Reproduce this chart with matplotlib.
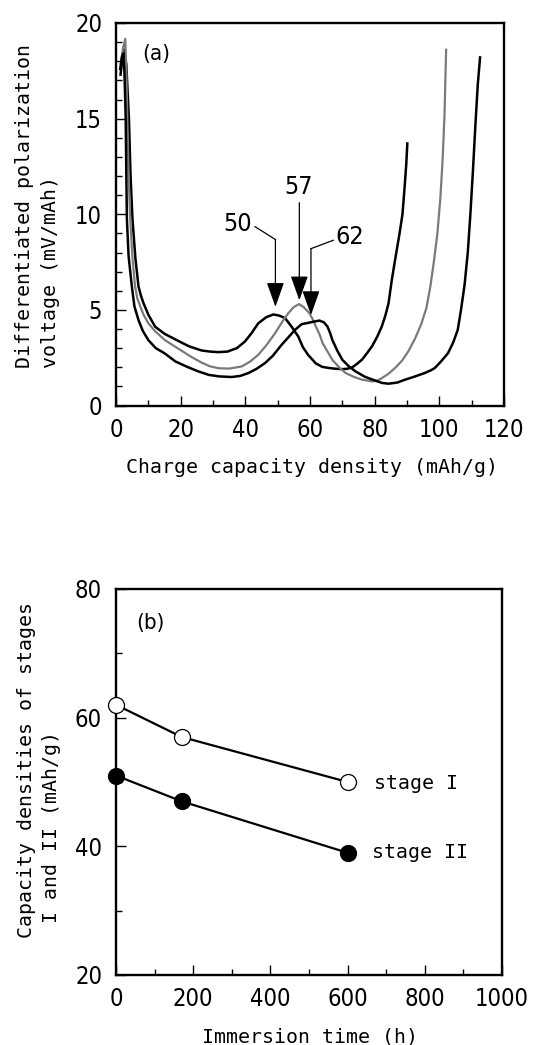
import matplotlib
matplotlib.use('Agg')
import matplotlib.pyplot as plt
from matplotlib.ticker import MultipleLocator
from matplotlib import font_manager
from matplotlib.font_manager import FontProperties

# ---------------- data ----------------
# panel (a): differentiated polarization voltage curves
curve50_x = [1.4, 1.9, 2.5, 3.2, 4.0, 4.5, 5.1, 6.0, 6.95, 7.7, 8.5, 10.0, 12.1, 15.0, 19.0, 22.5, 26.4, 29.0,
             31.7, 34.5, 37.4, 39.9, 42.0, 44.0, 46.5, 48.7, 50.5, 52.3, 54.4, 56.4, 57.8, 59.4, 61.8, 63.8,
             65.9, 68.0, 70.0, 71.5, 73.1, 74.7, 76.1, 77.7, 79.2, 80.8, 82.2, 83.3, 84.3, 85.3, 86.5, 87.7,
             88.6, 89.3, 89.8, 90.1]
curve50_y = [17.3, 18.0, 18.6, 17.8, 15.0, 12.0, 9.74, 7.7, 6.23, 5.75, 5.35, 4.75, 4.12, 3.75, 3.4, 3.1, 2.88, 2.82,
             2.79, 2.82, 3.0, 3.35, 3.8, 4.3, 4.62, 4.76, 4.7, 4.57, 4.1, 3.6, 3.05, 2.65, 2.2, 2.02,
             1.96, 1.92, 1.9, 1.92, 2.0, 2.2, 2.4, 2.75, 3.1, 3.6, 4.13, 4.7, 5.35, 6.57, 7.8, 9.0,
             10.0, 11.5, 12.7, 13.7]

curve57_x = [1.5, 2.2, 2.86, 3.2, 3.5, 3.9, 4.4, 5.1, 5.9, 6.6, 7.5, 8.6, 10.0, 12.0, 15.1, 19.0, 23.3, 26.4,
             29.0, 31.7, 35.0, 38.9, 41.5, 44.0, 46.5, 49.2, 51.5, 53.3, 55.0, 56.6, 58.0, 59.8, 61.0, 61.8,
             63.0, 63.9, 65.5, 66.9, 69.0, 71.0, 73.5, 76.1, 79.2, 80.8, 82.2, 84.2, 86.3, 88.5, 90.4, 92.5,
             94.5, 96.0, 97.2, 98.3, 99.4, 100.3, 101.0, 101.6, 102.1]
curve57_y = [17.9, 18.7, 19.17, 17.5, 15.0, 12.0, 9.74, 7.7, 6.23, 5.6, 5.18, 4.72, 4.3, 3.9, 3.42, 3.0, 2.54, 2.25,
             2.05, 1.95, 1.93, 2.04, 2.3, 2.65, 3.15, 3.78, 4.4, 4.83, 5.15, 5.3, 5.15, 4.83, 4.45, 4.13,
             3.7, 3.26, 2.8, 2.39, 2.0, 1.7, 1.5, 1.35, 1.26, 1.3, 1.43, 1.65, 1.96, 2.35, 2.83, 3.5,
             4.3, 5.1, 6.2, 7.5, 9.0, 10.8, 12.8, 15.2, 18.6]

curve62_x = [1.3, 1.8, 2.2, 2.6, 3.0, 3.2, 3.37, 3.9, 4.9, 5.7, 6.95, 8.3, 10.0, 12.3, 15.1, 18.4, 22.3, 25.5,
             28.7, 32.0, 35.8, 38.5, 41.0, 43.5, 46.1, 48.5, 51.2, 53.5, 55.4, 57.4, 59.4, 61.0, 62.9, 64.3,
             65.4, 66.2, 66.9, 68.5, 70.0, 72.0, 74.1, 77.0, 80.2, 82.3, 84.3, 87.0, 89.4, 92.5, 95.5, 97.5,
             98.6, 100.5, 102.7, 104.3, 105.7, 106.7, 107.8, 108.8, 109.6, 110.4, 111.2, 111.9, 112.6]
curve62_y = [17.6, 18.2, 18.4, 17.5, 15.0, 12.0, 9.74, 7.8, 6.23, 5.18, 4.47, 3.9, 3.42, 3.0, 2.72, 2.3, 2.0, 1.78,
             1.6, 1.52, 1.49, 1.55, 1.7, 1.92, 2.22, 2.6, 3.17, 3.6, 3.96, 4.25, 4.32, 4.38, 4.44, 4.35,
             4.13, 3.8, 3.43, 2.85, 2.39, 2.05, 1.78, 1.5, 1.3, 1.18, 1.14, 1.2, 1.35, 1.52, 1.7, 1.85,
             1.96, 2.3, 2.74, 3.3, 3.96, 5.0, 6.3, 8.0, 10.0, 12.3, 14.8, 16.8, 18.2]

peak_labels = ['50', '57', '62']

# panel (b): capacity densities vs immersion time
immersion_h = [0, 170, 600]
stage1_cap = [62, 57, 50]
stage2_cap = [51, 47, 39]
series_labels = ['stage I', 'stage II']

xticks_a = [0, 20, 40, 60, 80, 100, 120]
yticks_a = [0, 5, 10, 15, 20]
xticks_b = [0, 200, 400, 600, 800, 1000]
yticks_b = [20, 40, 60, 80]


# ---------------- fonts ----------------
def narrow_props(size):
    # prefer a true narrow / condensed sans face when one is installed
    for fam, stretch, key in (('Liberation Sans Narrow', 'normal', 'Narrow'),
                              ('DejaVu Sans', 'condensed', 'Condensed')):
        try:
            p = FontProperties(family=fam, stretch=stretch, size=size)
            path = font_manager.findfont(p, fallback_to_default=False)
            if key.lower() in path.lower():
                return FontProperties(fname=path, size=size)
        except Exception:
            pass
    return FontProperties(family='Liberation Sans', size=size)


def pick(names):
    for n in names:
        try:
            font_manager.findfont(FontProperties(family=n), fallback_to_default=False)
            return n
        except Exception:
            pass
    return 'DejaVu Sans'


MONO = pick(['DejaVu Sans Mono', 'Liberation Mono'])
TICKFP = narrow_props(17)
PEAKFP = narrow_props(18)
TAGFP = narrow_props(16)

W, H = 533, 1045
fig = plt.figure(figsize=(W / 100, H / 100), dpi=100)


def fx(px):
    return px / W


def fy(py):
    return 1 - py / H


ax1 = fig.add_axes([fx(116), fy(405.5), fx(504) - fx(116), fy(23) - fy(405.5)])
ax2 = fig.add_axes([fx(116), fy(975), fx(502) - fx(116), fy(589) - fy(975)])

for ax in (ax1, ax2):
    for s in ax.spines.values():
        s.set_linewidth(1.7)
    ax.tick_params(which='both', direction='in', top=False, right=False, width=1.0)
    ax.tick_params(which='major', length=7)
    ax.tick_params(which='minor', length=4)
    ax.tick_params(axis='y', pad=10)
    ax.tick_params(axis='x', pad=9)

# ---- panel (a) ----
ax1.plot(curve50_x, curve50_y, color='black', lw=1.8, solid_joinstyle='round')
ax1.plot(curve57_x, curve57_y, color='#7a7a7a', lw=1.6, solid_joinstyle='round')
ax1.plot(curve62_x, curve62_y, color='black', lw=1.8, solid_joinstyle='round')
ax1.set_xlim(0, 120)
ax1.set_ylim(0, 20)
ax1.set_xticks(xticks_a)
ax1.set_yticks(yticks_a)
ax1.xaxis.set_minor_locator(MultipleLocator(10))
ax1.yaxis.set_minor_locator(MultipleLocator(1))
for lab in ax1.get_xticklabels() + ax1.get_yticklabels():
    lab.set_fontproperties(TICKFP)

arrow_kw = dict(arrowstyle='-|>,head_length=0.9,head_width=0.32', color='black', lw=0.9,
                shrinkA=0, shrinkB=0, mutation_scale=17)
# 50
ax1.plot([43.0, 49.3], [9.35, 8.68], color='black', lw=0.9)
ax1.annotate('', xy=(49.3, 5.16), xytext=(49.3, 8.68), arrowprops=arrow_kw)
ax1.text(37.7, 9.5, peak_labels[0], fontproperties=PEAKFP, ha='center', va='center')
# 57
ax1.annotate('', xy=(56.7, 5.5), xytext=(56.7, 10.6), arrowprops=arrow_kw)
ax1.text(56.6, 11.45, peak_labels[1], fontproperties=PEAKFP, ha='center', va='center')
# 62
ax1.plot([67.2, 60.3], [8.64, 8.2], color='black', lw=0.9)
ax1.annotate('', xy=(60.3, 4.73), xytext=(60.3, 8.2), arrowprops=arrow_kw)
ax1.text(72.2, 8.8, peak_labels[2], fontproperties=PEAKFP, ha='center', va='center')

ax1.text(12.4, 18.4, '(a)', fontproperties=TAGFP, ha='center', va='center')

# ---- panel (b) ----
ax2.plot(immersion_h, stage1_cap, color='black', lw=1.6, zorder=2)
ax2.plot(immersion_h, stage1_cap, 'o', ms=11.5, mfc='white', mec='black', mew=0.9, zorder=3, clip_on=False)
ax2.plot(immersion_h, stage2_cap, color='black', lw=1.6, zorder=2)
ax2.plot(immersion_h, stage2_cap, 'o', ms=11.5, mfc='black', mec='black', mew=0.9, zorder=3, clip_on=False)
ax2.set_xlim(0, 1000)
ax2.set_ylim(20, 80)
ax2.set_xticks(xticks_b)
ax2.set_yticks(yticks_b)
ax2.xaxis.set_minor_locator(MultipleLocator(100))
ax2.yaxis.set_minor_locator(MultipleLocator(10))
for lab in ax2.get_xticklabels() + ax2.get_yticklabels():
    lab.set_fontproperties(TICKFP)

ax2.text(668, stage1_cap[-1] - 0.2, series_labels[0], fontfamily=MONO, fontsize=14.3, ha='left', va='center')
ax2.text(662, stage2_cap[-1] + 0.1, series_labels[1], fontfamily=MONO, fontsize=14.3, ha='left', va='center')
ax2.text(90, 74.7, '(b)', fontproperties=TAGFP, ha='center', va='center')

# ---- axis labels ----
LS = 14.3
fig.text(fx(24), fy(368), 'Differentiated polarization', fontfamily=MONO, fontsize=LS,
         rotation=90, rotation_mode='anchor', ha='left', va='center')
fig.text(fx(51), fy(368), 'voltage (mV/mAh)', fontfamily=MONO, fontsize=LS,
         rotation=90, rotation_mode='anchor', ha='left', va='center')
fig.text(fx(312), fy(468), 'Charge capacity density (mAh/g)', fontfamily=MONO, fontsize=LS,
         ha='center', va='center')

fig.text(fx(26.7), fy(938), 'Capacity densities of stages', fontfamily=MONO, fontsize=LS,
         rotation=90, rotation_mode='anchor', ha='left', va='center')
fig.text(fx(51.7), fy(923), 'I and II (mAh/g)', fontfamily=MONO, fontsize=LS,
         rotation=90, rotation_mode='anchor', ha='left', va='center')
fig.text(fx(310), fy(1037), 'Immersion time (h)', fontfamily=MONO, fontsize=LS,
         ha='center', va='center')

fig.savefig('out.png', dpi=100)
